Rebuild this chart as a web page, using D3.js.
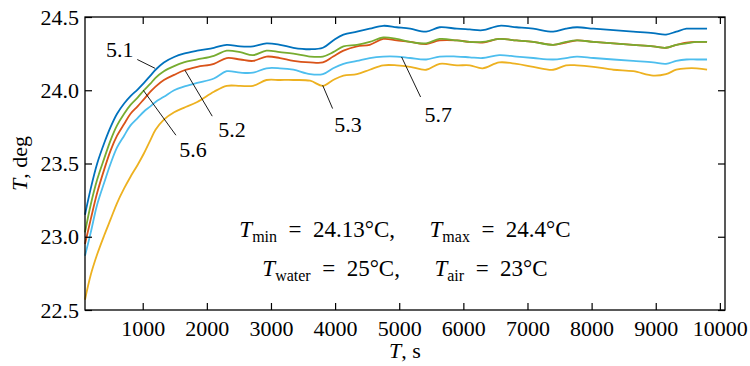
<!DOCTYPE html>
<html>
<head>
<meta charset="utf-8">
<script src="https://cdn.jsdelivr.net/npm/d3@7"></script>
<style>
  body { margin: 0; background: #fff; }
  svg, svg text { font-family: "Liberation Serif", "DejaVu Serif", serif; fill: #000; }
</style>
</head>
<body>
<div id="chart"></div>
<script>
// --- data ---
const times = [100, 190, 290, 400, 500, 600, 710, 810, 920, 1020, 1120, 1200, 1330, 1490, 1640, 1850,
  2110, 2310, 2520, 2720, 2930, 3140, 3350, 3610, 3810, 3970, 4130, 4340, 4540, 4750, 4960, 5170,
  5420, 5630, 5900, 6100, 6300, 6560, 6830, 7090, 7400, 7600, 7770, 8030, 8340, 8650, 8960, 9160,
  9320, 9480, 9640, 9800];

const s51 = [23.15, 23.33, 23.50, 23.64, 23.75, 23.84, 23.91, 23.96, 24.005, 24.05, 24.10, 24.14, 24.19, 24.227, 24.25, 24.27,
  24.29, 24.31, 24.30, 24.30, 24.32, 24.31, 24.29, 24.28, 24.29, 24.34, 24.38, 24.40, 24.42, 24.44, 24.43, 24.42,
  24.40, 24.43, 24.42, 24.415, 24.41, 24.44, 24.43, 24.42, 24.40, 24.42, 24.43, 24.42, 24.41, 24.40, 24.39, 24.38,
  24.40, 24.42, 24.42, 24.42];
const s52 = [22.95, 23.12, 23.30, 23.46, 23.59, 23.69, 23.77, 23.84, 23.89, 23.94, 23.99, 24.025, 24.07, 24.105, 24.135, 24.16,
  24.18, 24.22, 24.21, 24.20, 24.23, 24.22, 24.20, 24.19, 24.19, 24.23, 24.27, 24.30, 24.31, 24.35, 24.34, 24.33,
  24.315, 24.34, 24.34, 24.33, 24.325, 24.35, 24.34, 24.33, 24.31, 24.325, 24.34, 24.33, 24.32, 24.31, 24.30, 24.29,
  24.31, 24.325, 24.33, 24.33];
const s53 = [22.57, 22.74, 22.88, 23.01, 23.12, 23.23, 23.33, 23.41, 23.49, 23.57, 23.66, 23.73, 23.80, 23.85, 23.88, 23.92,
  23.99, 24.03, 24.03, 24.03, 24.07, 24.07, 24.07, 24.065, 24.03, 24.07, 24.10, 24.11, 24.14, 24.17, 24.17, 24.16,
  24.14, 24.18, 24.17, 24.17, 24.15, 24.19, 24.18, 24.16, 24.14, 24.17, 24.17, 24.16, 24.14, 24.13, 24.10, 24.11,
  24.14, 24.15, 24.15, 24.14];
const s56 = [23.03, 23.22, 23.39, 23.535, 23.66, 23.76, 23.84, 23.90, 23.95, 24.00, 24.045, 24.085, 24.13, 24.165, 24.19, 24.21,
  24.235, 24.27, 24.26, 24.24, 24.27, 24.26, 24.25, 24.23, 24.23, 24.26, 24.30, 24.31, 24.33, 24.36, 24.35, 24.33,
  24.32, 24.35, 24.34, 24.33, 24.33, 24.35, 24.34, 24.33, 24.31, 24.33, 24.34, 24.33, 24.32, 24.31, 24.30, 24.29,
  24.31, 24.32, 24.33, 24.33];
const s57 = [22.87, 23.03, 23.22, 23.37, 23.50, 23.61, 23.69, 23.76, 23.81, 23.855, 23.89, 23.92, 23.955, 24.00, 24.025, 24.05,
  24.08, 24.13, 24.12, 24.12, 24.15, 24.15, 24.14, 24.11, 24.11, 24.15, 24.18, 24.20, 24.22, 24.23, 24.23, 24.22,
  24.21, 24.23, 24.23, 24.225, 24.22, 24.24, 24.23, 24.22, 24.21, 24.22, 24.23, 24.22, 24.21, 24.20, 24.19, 24.18,
  24.20, 24.21, 24.21, 24.21];

const seriesNames = ["5.1", "5.2", "5.3", "5.6", "5.7"];
const seriesValues = [s51, s52, s53, s56, s57];
const seriesColors = ["#0072BD", "#D95319", "#EDB120", "#77AC30", "#4DBEEE"];

const xTicks = [1000, 2000, 3000, 4000, 5000, 6000, 7000, 8000, 9000, 10000];
const yTicks = [22.5, 23.0, 23.5, 24.0, 24.5];

// label callouts: point on curve, end of leader line, label position (data units)
const callouts = [
  { label: "5.1", at: [1191, 24.15], end: [915, 24.21], text: [640, 24.225] },
  { label: "5.6", at: [1009, 24.0], end: [1518, 23.693], text: [1785, 23.543] },
  { label: "5.2", at: [1659, 24.136], end: [2084, 23.823], text: [2392, 23.679] },
  { label: "5.3", at: [3806, 24.034], end: [3961, 23.875], text: [4200, 23.714] },
  { label: "5.7", at: [5037, 24.227], end: [5333, 23.954], text: [5607, 23.782] }
];

// --- layout ---
const width = 750, height = 366;
const margin = { top: 17, right: 25, bottom: 56, left: 85 };
const innerWidth = width - margin.left - margin.right;
const innerHeight = height - margin.top - margin.bottom;
const fontSize = 22;

const svg = d3.select("#chart").append("svg")
  .attr("width", width)
  .attr("height", height)
  .attr("font-family", "Liberation Serif, serif");

const g = svg.append("g").attr("transform", `translate(${margin.left},${margin.top})`);

const x = d3.scaleLinear().domain([100, 10080]).range([0, innerWidth]);
const y = d3.scaleLinear().domain([22.5, 24.5]).range([innerHeight, 0]);

// --- curves ---
const line = d3.line()
  .x((d) => x(d[0]))
  .y((d) => y(d[1]))
  .curve(d3.curveCatmullRom.alpha(0.5));

seriesValues.forEach((vals, i) => {
  g.append("path")
    .datum(times.map((t, j) => [t, vals[j]]))
    .attr("fill", "none")
    .attr("stroke", seriesColors[i])
    .attr("stroke-width", 1.8)
    .attr("stroke-linejoin", "round")
    .attr("d", line);
});

// --- axes (ticks inside, on all four sides) ---
const tickLen = 7;
function styleAxis(sel) {
  sel.attr("font-family", "Liberation Serif, serif").attr("font-size", fontSize);
  sel.select(".domain").remove();
  sel.selectAll(".tick line").attr("stroke", "#000").attr("stroke-width", 1.2);
  sel.selectAll(".tick text").attr("fill", "#000");
}
function noLabels(sel) {
  sel.selectAll(".tick text").remove();
}

g.append("g")
  .attr("transform", `translate(0,${innerHeight})`)
  .call(d3.axisBottom(x).tickValues(xTicks).tickSizeInner(-tickLen).tickSizeOuter(0).tickPadding(10)
    .tickFormat(d3.format("d")))
  .call(styleAxis);
g.append("g")
  .call(d3.axisTop(x).tickValues(xTicks).tickSizeInner(-tickLen).tickSizeOuter(0))
  .call(styleAxis)
  .call(noLabels);
g.append("g")
  .call(d3.axisLeft(y).tickValues(yTicks).tickSizeInner(-tickLen).tickSizeOuter(0).tickPadding(6)
    .tickFormat(d3.format(".1f")))
  .call(styleAxis);
g.append("g")
  .attr("transform", `translate(${innerWidth},0)`)
  .call(d3.axisRight(y).tickValues(yTicks).tickSizeInner(-tickLen).tickSizeOuter(0))
  .call(styleAxis)
  .call(noLabels);

g.append("rect")
  .attr("width", innerWidth)
  .attr("height", innerHeight)
  .attr("fill", "none")
  .attr("stroke", "#000")
  .attr("stroke-width", 1.3);

// --- callouts ---
callouts.forEach((c) => {
  g.append("line")
    .attr("x1", x(c.at[0])).attr("y1", y(c.at[1]))
    .attr("x2", x(c.end[0])).attr("y2", y(c.end[1]))
    .attr("stroke", "#000")
    .attr("stroke-width", 0.9);
  g.append("text")
    .attr("x", x(c.text[0]))
    .attr("y", y(c.text[1]))
    .attr("text-anchor", "middle")
    .attr("font-size", fontSize)
    .text(c.label);
});

// --- math-style text helper ---
function mathLine(sel, parts) {
  parts.forEach((p) => {
    const t = sel.append("tspan").text(p.t);
    if (p.i) t.attr("font-style", "italic");
    if (p.sub) t.attr("font-size", 16).attr("dy", 5);
    if (p.up) t.attr("dy", -5);
  });
}

const eq = "\u2002=\u2002";
const gap = ",\u2003\u2002";
const info1 = g.append("text")
  .attr("x", innerWidth / 2)
  .attr("y", 220)
  .attr("text-anchor", "middle")
  .attr("font-size", 23);
mathLine(info1, [
  { t: "T", i: true }, { t: "min", sub: true }, { t: eq + "24.13°C" + gap, up: true },
  { t: "T", i: true }, { t: "max", sub: true }, { t: eq + "24.4°C", up: true }
]);

const info2 = g.append("text")
  .attr("x", innerWidth / 2)
  .attr("y", 259)
  .attr("text-anchor", "middle")
  .attr("font-size", 23);
mathLine(info2, [
  { t: "T", i: true }, { t: "water", sub: true }, { t: eq + "25°C" + gap, up: true },
  { t: "T", i: true }, { t: "air", sub: true }, { t: eq + "23°C", up: true }
]);

// --- axis titles ---
const xTitle = svg.append("text")
  .attr("x", margin.left + innerWidth / 2)
  .attr("y", 358)
  .attr("text-anchor", "middle")
  .attr("font-size", fontSize);
xTitle.append("tspan").attr("font-style", "italic").text("T");
xTitle.append("tspan").text(", s");

const yTitle = svg.append("text")
  .attr("transform", `translate(27,${margin.top + innerHeight / 2}) rotate(-90)`)
  .attr("text-anchor", "middle")
  .attr("font-size", fontSize);
yTitle.append("tspan").attr("font-style", "italic").text("T");
yTitle.append("tspan").text(", deg");
</script>
</body>
</html>
